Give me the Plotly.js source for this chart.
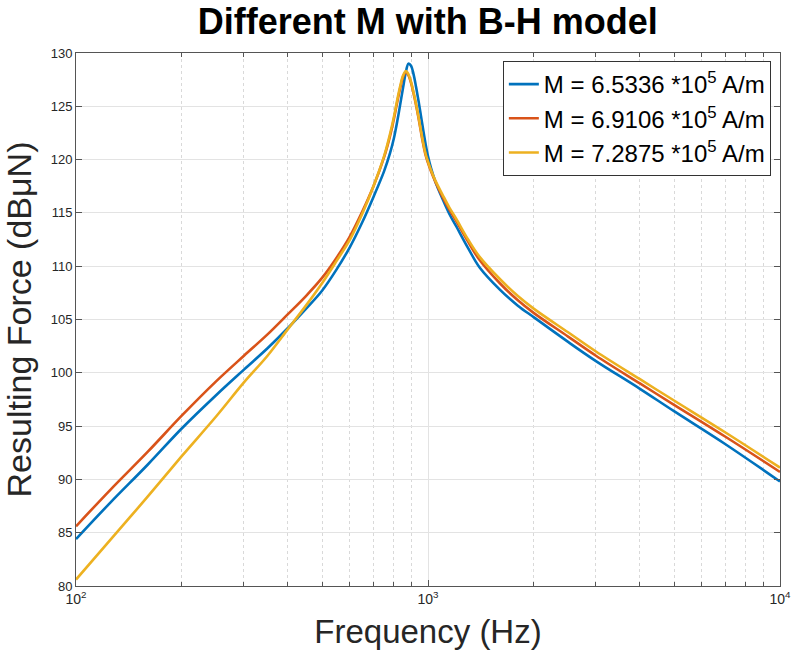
<!DOCTYPE html>
<html>
<head>
<meta charset="utf-8">
<script src="https://cdn.plot.ly/plotly-3.0.1.min.js"></script>
<style>html,body{margin:0;padding:0;background:#fff;}#chart{width:792px;height:651px;}</style>
</head>
<body>
<div id="chart"></div>
<script>
const freq = [100, 125, 160, 200, 250, 300, 350, 400, 450, 500, 550, 600, 650, 700, 750, 780, 800, 820, 835, 850, 865, 880, 895, 910, 925, 940, 955, 970, 985, 1000, 1020, 1050, 1100, 1150, 1200, 1300, 1400, 1600, 1800, 2000, 2500, 3000, 4000, 5000, 7000, 10000];

// Resulting force (dBuN) for each magnetisation value
const forceM1 = [84.4, 87.8, 91.4, 94.8, 97.9, 100.3, 102.3, 104.2, 106.0, 107.7, 109.7, 111.8, 114.1, 116.5, 118.9, 120.6, 122.0, 123.8, 125.3, 126.8, 128.2, 129.0, 128.8, 128.0, 126.8, 125.5, 124.1, 122.7, 121.4, 120.3, 119.2, 117.9, 116.3, 114.9, 113.8, 111.7, 109.9, 107.8, 106.3, 105.2, 102.9, 101.1, 98.5, 96.4, 93.3, 89.8];
const forceM2 = [85.6, 89.0, 92.6, 96.0, 99.2, 101.6, 103.6, 105.5, 107.2, 108.9, 110.8, 112.8, 115.1, 117.5, 120.2, 122.2, 123.8, 125.6, 126.8, 127.8, 128.2, 127.9, 127.2, 126.2, 125.1, 123.9, 122.6, 121.4, 120.4, 119.7, 118.9, 117.9, 116.5, 115.3, 114.3, 112.3, 110.6, 108.4, 106.8, 105.6, 103.4, 101.6, 99.0, 97.0, 94.0, 90.7];
const forceM3 = [80.6, 84.3, 88.4, 92.2, 95.9, 99.1, 101.6, 104.1, 106.3, 108.4, 110.5, 112.5, 114.9, 117.5, 120.3, 122.4, 124.0, 125.8, 127.0, 127.9, 128.3, 128.0, 127.3, 126.3, 125.2, 124.0, 122.7, 121.5, 120.5, 119.8, 119.0, 118.0, 116.7, 115.5, 114.5, 112.5, 110.9, 108.8, 107.2, 106.0, 103.8, 102.0, 99.4, 97.4, 94.4, 91.1];

const seriesNames = ["M = 6.5336 *10<sup>5</sup> A/m", "M = 6.9106 *10<sup>5</sup> A/m", "M = 7.2875 *10<sup>5</sup> A/m"];
const seriesColors = ["#0072BD", "#D95319", "#EDB120"];

const xTickVals = [100, 1000, 10000];
const xTickText = ["10<sup>2</sup>", "10<sup>3</sup>", "10<sup>4</sup>"];
const yTickVals = [80, 85, 90, 95, 100, 105, 110, 115, 120, 125, 130];

const allY = [forceM1, forceM2, forceM3];
const traces = allY.map((ys, i) => ({
  x: freq, y: ys, type: "scatter", mode: "lines", name: seriesNames[i],
  line: {color: seriesColors[i], width: 2.6, shape: "spline", smoothing: 1.0}
}));

const font = "Liberation Sans, Arial, Helvetica, sans-serif";
const layout = {
  width: 792, height: 651,
  margin: {l: 76, r: 12, t: 53, b: 65},
  paper_bgcolor: "#fff", plot_bgcolor: "#fff",
  font: {family: font, color: "#262626"},
  title: {text: "<b>Different M with B-H model</b>", font: {size: 36, color: "#000", family: font}, x: 0.54, xanchor: "center", y: 0.967, yanchor: "middle"},
  showlegend: true,
  legend: {x: 0.987, xanchor: "right", y: 0.985, yanchor: "top", bgcolor: "#fff", bordercolor: "#333", borderwidth: 1, font: {size: 24, color: "#000", family: font}, tracegroupgap: 0},
  xaxis: {
    type: "log", range: [2, 4], tickvals: xTickVals, ticktext: xTickText,
    ticks: "inside", ticklen: 6, tickcolor: "#555", mirror: "ticks",
    showline: true, linecolor: "#555", linewidth: 1,
    showgrid: true, gridcolor: "#e3e3e3", gridwidth: 1, zeroline: false,
    tickfont: {size: 14, color: "#262626"},
    minor: {dtick: "D1", ticks: "inside", ticklen: 4, tickcolor: "#555", showgrid: true, gridcolor: "#d9d9d9", griddash: "dot", gridwidth: 1},
    title: {text: "Frequency (Hz)", font: {size: 33, color: "#262626", family: font}, standoff: 14}
  },
  yaxis: {
    range: [80, 130], tickvals: yTickVals,
    ticks: "inside", ticklen: 6, tickcolor: "#555", mirror: "ticks",
    showline: true, linecolor: "#555", linewidth: 1,
    showgrid: true, gridcolor: "#e3e3e3", gridwidth: 1, zeroline: false,
    tickfont: {size: 13, color: "#262626"},
    title: {text: "Resulting Force (dBμN)", font: {size: 34, color: "#262626", family: font}, standoff: 10}
  }
};
Plotly.newPlot("chart", traces, layout, {displayModeBar: false, staticPlot: true});
</script>
</body>
</html>
